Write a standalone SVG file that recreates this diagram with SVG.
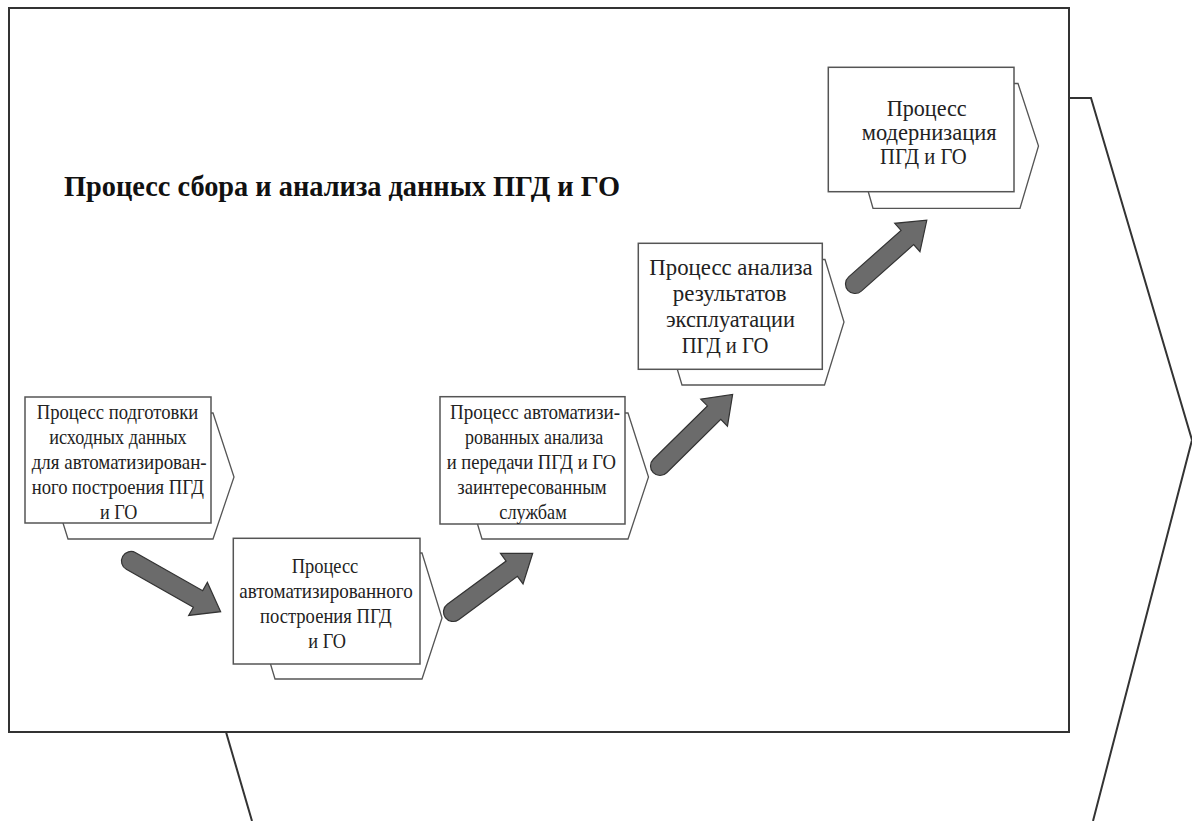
<svg xmlns="http://www.w3.org/2000/svg" width="1192" height="821" viewBox="0 0 1192 821">
<style>
.bg{fill:#fff}
.frame{fill:#fff;stroke:#333;stroke-width:2}
.line{fill:none;stroke:#333;stroke-width:2}
.box{fill:#fff;stroke:#555;stroke-width:1.5}
.shadow{fill:#fff;stroke:#555;stroke-width:1.3;stroke-linejoin:miter}
.t{font-family:"Liberation Serif","Times New Roman",serif;font-size:22px;fill:#222}
.t2{font-family:"Liberation Serif","Times New Roman",serif;font-size:23px;fill:#222}
.title{font-family:"Liberation Serif","Times New Roman",serif;font-size:29px;font-weight:bold;fill:#111}
.arr{fill:#6b6b6b;stroke:#333;stroke-width:1.2;stroke-linejoin:miter}
</style>
<rect class="bg" x="0" y="0" width="1192" height="821"/>
<g id="background-chevron">
<polyline class="line" points="1069,98 1091,98 1192,440 1093,821"/>
<polyline class="line" points="226,732 252,821"/>
</g>
<g id="frame">
<rect class="frame" x="9" y="8" width="1060" height="724"/>
</g>
<g id="title">
<text class="title" x="64" y="196" textLength="556" lengthAdjust="spacingAndGlyphs">Процесс сбора и анализа данных ПГД и ГО</text>
</g>
<g id="node1">
<polygon class="shadow" points="58,413 213,413 234,477 213,539 68,539 63,523 58,507"/>
<rect class="box" x="25" y="397" width="186" height="126"/>
<text class="t" x="36.7" y="419" textLength="161.6" lengthAdjust="spacingAndGlyphs">Процесс подготовки</text>
<text class="t" x="49.3" y="444" textLength="137.4" lengthAdjust="spacingAndGlyphs">исходных данных</text>
<text class="t" x="31.7" y="469" textLength="175" lengthAdjust="spacingAndGlyphs">для автоматизирован-</text>
<text class="t" x="31.7" y="494" textLength="172.3" lengthAdjust="spacingAndGlyphs">ного построения ПГД</text>
<text class="t" x="100" y="519" textLength="37.3" lengthAdjust="spacingAndGlyphs">и ГО</text>
</g>
<g id="node2">
<polygon class="shadow" points="266,553 422,553 442,618 422,679 275,679 270.5,664 266,650"/>
<rect class="box" x="233.3" y="538.3" width="186.7" height="125.7"/>
<text class="t" x="291.7" y="572.5" textLength="66.6" lengthAdjust="spacingAndGlyphs">Процесс</text>
<text class="t" x="239.3" y="597.5" textLength="173.4" lengthAdjust="spacingAndGlyphs">автоматизированного</text>
<text class="t" x="260" y="622.5" textLength="131.7" lengthAdjust="spacingAndGlyphs">построения ПГД</text>
<text class="t" x="308.3" y="648" textLength="37.7" lengthAdjust="spacingAndGlyphs">и ГО</text>
</g>
<g id="node3">
<polygon class="shadow" points="473,413 628,413 648.5,477 628,539 482,539 477.5,524 473,510"/>
<rect class="box" x="440" y="396.7" width="185" height="127.3"/>
<text class="t" x="450" y="418.5" textLength="170" lengthAdjust="spacingAndGlyphs">Процесс автоматизи-</text>
<text class="t" x="465" y="443.5" textLength="138.3" lengthAdjust="spacingAndGlyphs">рованных анализа</text>
<text class="t" x="446.7" y="469" textLength="169.3" lengthAdjust="spacingAndGlyphs">и передачи ПГД и ГО</text>
<text class="t" x="457.3" y="494" textLength="149.4" lengthAdjust="spacingAndGlyphs">заинтересованным</text>
<text class="t" x="499.3" y="519" textLength="67.4" lengthAdjust="spacingAndGlyphs">службам</text>
</g>
<g id="node4">
<polygon class="shadow" points="673,259.5 825,259.5 844,322 824.5,385 682,385 677.3,369.3 673,355"/>
<rect class="box" x="638.3" y="243.3" width="184" height="126"/>
<text class="t2" x="649.3" y="275" textLength="163.4" lengthAdjust="spacingAndGlyphs">Процесс анализа</text>
<text class="t2" x="672.7" y="301" textLength="114" lengthAdjust="spacingAndGlyphs">результатов</text>
<text class="t2" x="666" y="326.5" textLength="129" lengthAdjust="spacingAndGlyphs">эксплуатации</text>
<text class="t2" x="681.7" y="352.5" textLength="86.6" lengthAdjust="spacingAndGlyphs">ПГД и ГО</text>
</g>
<g id="node5">
<polygon class="shadow" points="864,83.5 1018,83.5 1038.5,146 1020,208.3 873,208.3 868.3,191.7 864,178"/>
<rect class="box" x="828.3" y="67.3" width="185.7" height="124.4"/>
<text class="t2" x="886.7" y="115.5" textLength="80" lengthAdjust="spacingAndGlyphs">Процесс</text>
<text class="t2" x="861.7" y="139.5" textLength="135" lengthAdjust="spacingAndGlyphs">модернизация</text>
<text class="t2" x="880" y="163.5" textLength="86.7" lengthAdjust="spacingAndGlyphs">ПГД и ГО</text>
</g>
<g id="connectors">
<path class="arr" transform="translate(131,561) rotate(29.5)" d="M0,-9.5 L77,-9.5 L77,-19 L103,0 L77,19 L77,9.5 L0,9.5 A9.5,9.5 0 0 1 0,-9.5 Z"/>
<path class="arr" transform="translate(453,612) rotate(-36.4)" d="M0,-9.5 L73,-9.5 L73,-19 L99,0 L73,19 L73,9.5 L0,9.5 A9.5,9.5 0 0 1 0,-9.5 Z"/>
<path class="arr" transform="translate(660,466) rotate(-44.6)" d="M0,-9.5 L76,-9.5 L76,-19 L102,0 L76,19 L76,9.5 L0,9.5 A9.5,9.5 0 0 1 0,-9.5 Z"/>
<path class="arr" transform="translate(855,284) rotate(-41.6)" d="M0,-9.5 L70,-9.5 L70,-19 L96,0 L70,19 L70,9.5 L0,9.5 A9.5,9.5 0 0 1 0,-9.5 Z"/>
</g>
</svg>
